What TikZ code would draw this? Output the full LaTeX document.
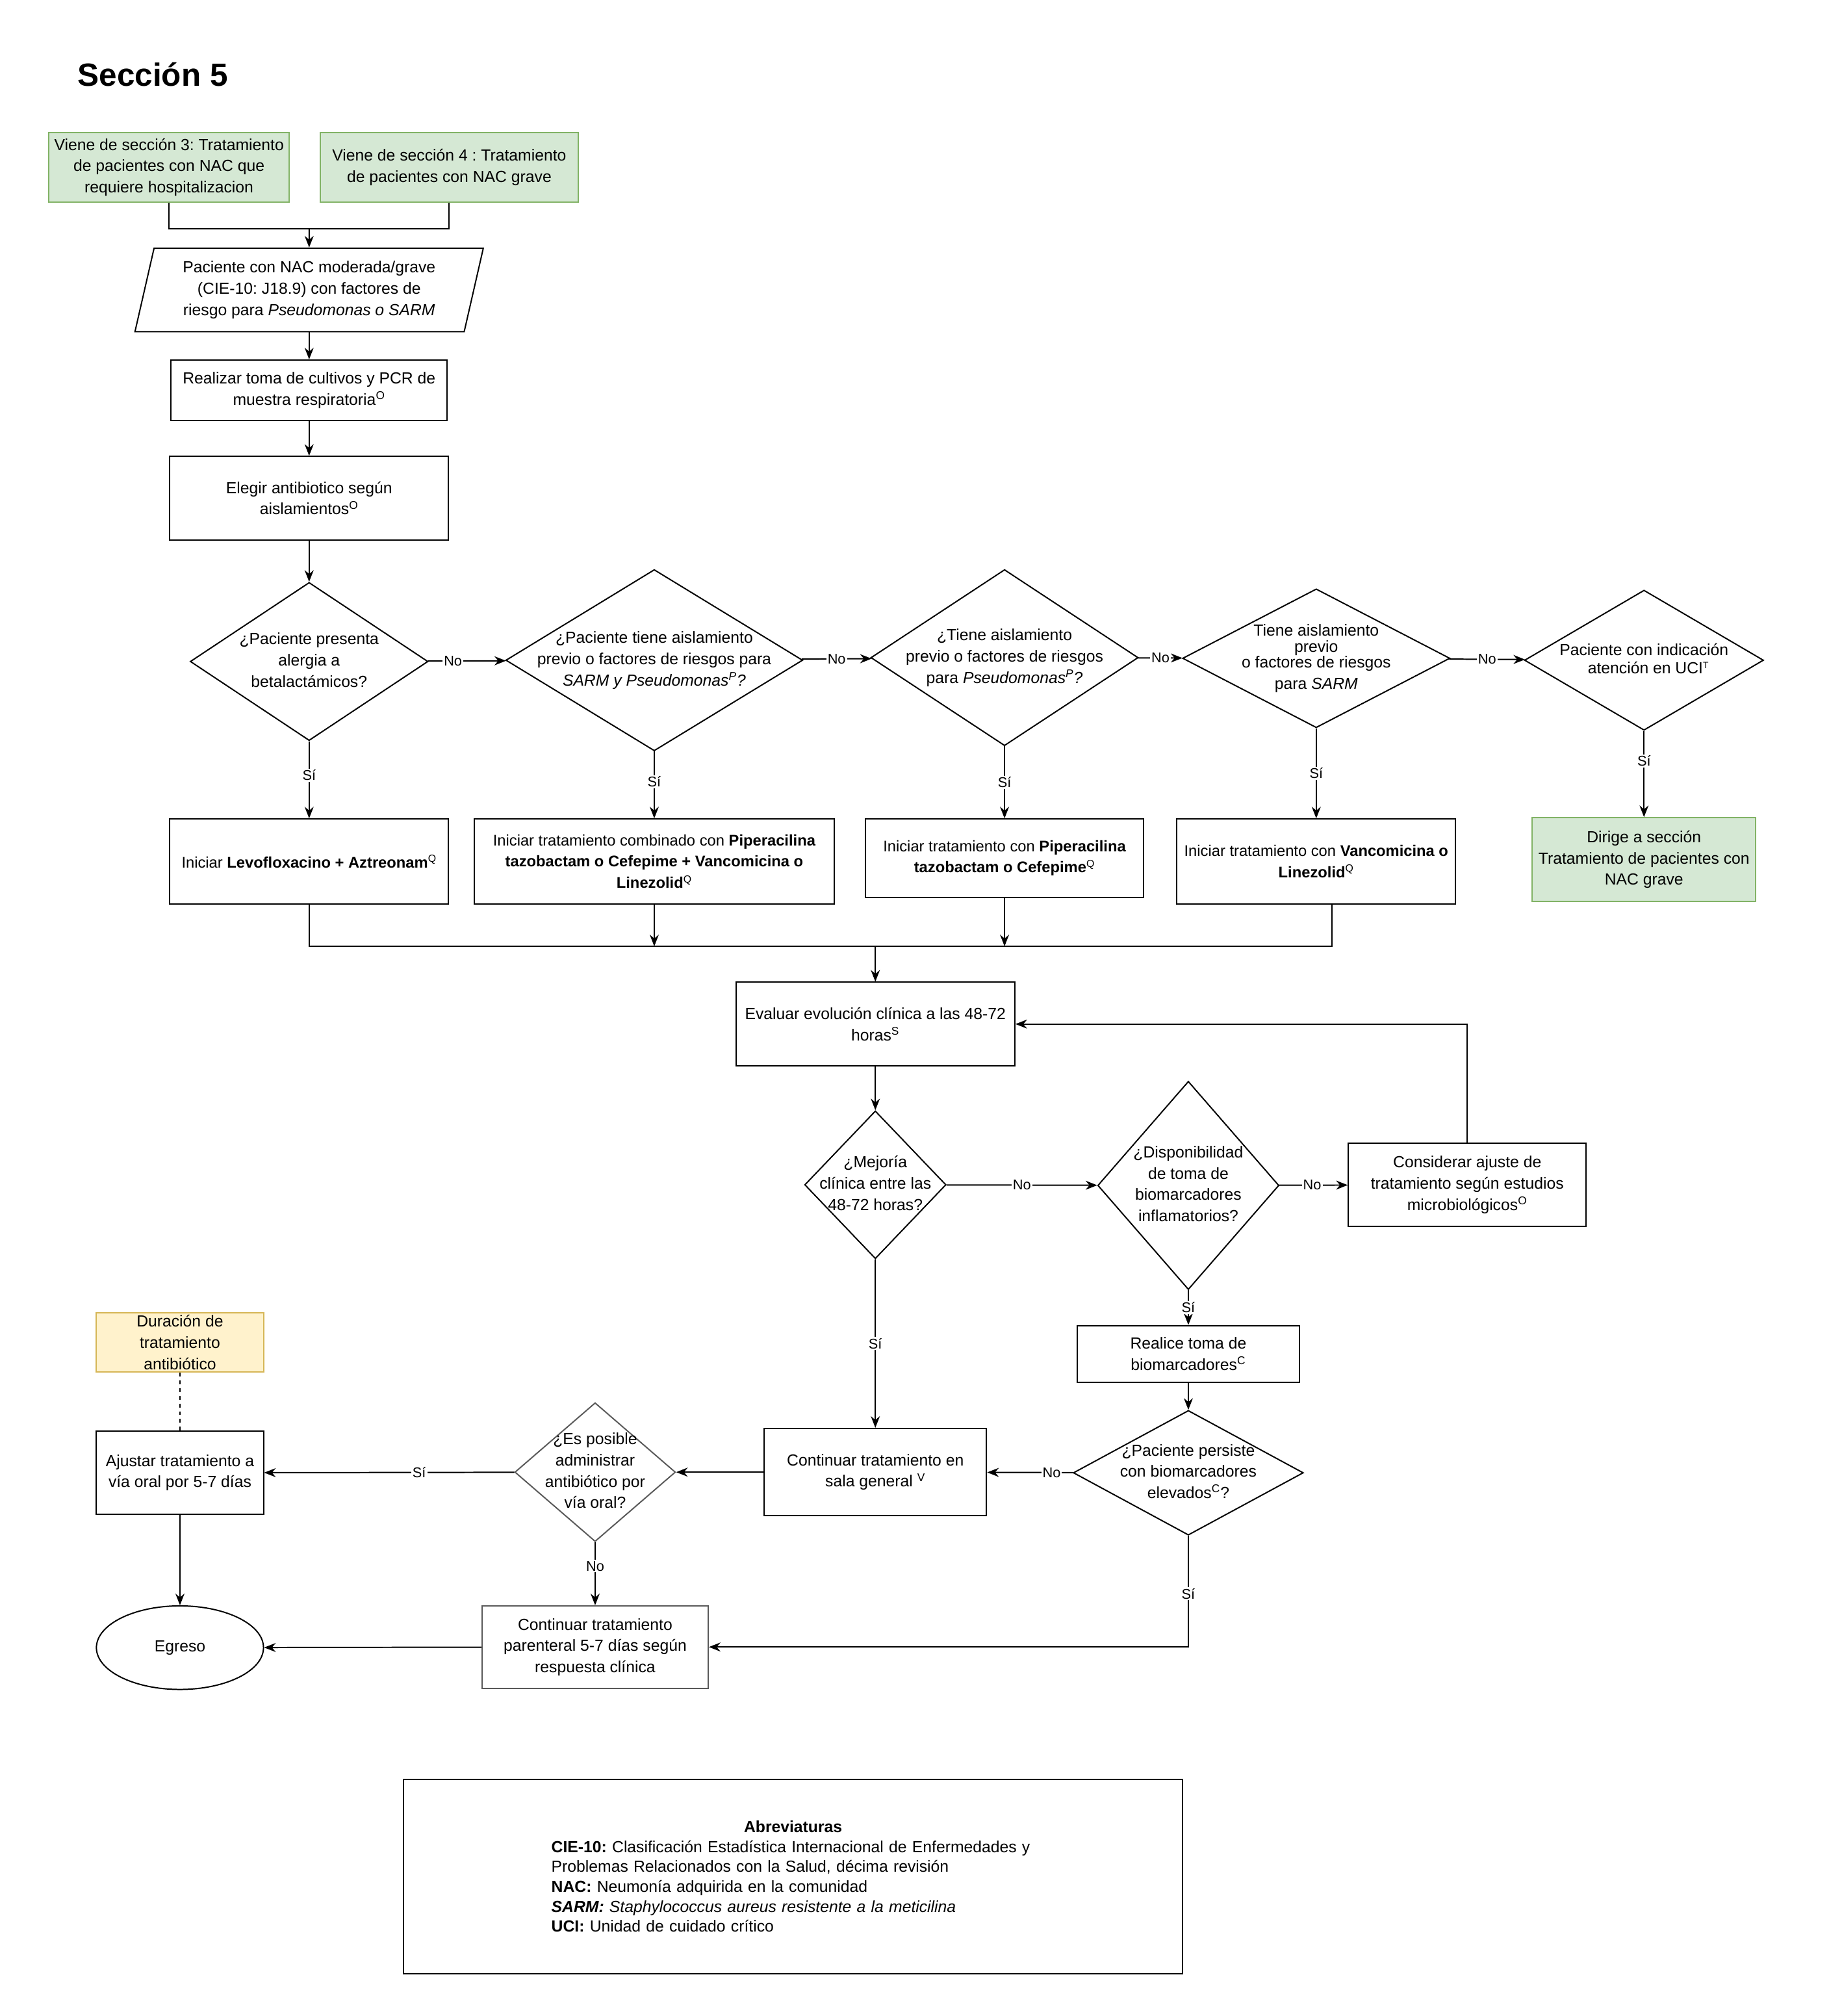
\documentclass[tikz,border=0pt]{standalone}
\usepackage{fontspec}
\setmainfont{Liberation Sans}
\usetikzlibrary{shapes.geometric,arrows.meta}
\frenchspacing
\definecolor{verdef}{HTML}{D5E8D4}
\definecolor{verdel}{HTML}{82B366}
\definecolor{amaf}{HTML}{FFF2CC}
\definecolor{amal}{HTML}{D6B656}
\newcommand{\rombo}[1]{\makebox[0pt]{\begin{tabular}{@{}c@{}}#1\end{tabular}}}
\tikzset{
  caja/.style={rectangle, draw, line width=1pt, inner sep=2pt, align=center,
    font=\fontsize{12.5}{16.5}\selectfont},
  cajaf/.style={caja, font=\fontsize{12}{16.5}\selectfont},
  verde/.style={caja, fill=verdef, draw=verdel},
  amarilla/.style={caja, fill=amaf, draw=amal},
  decision/.style={diamond, draw, line width=1pt, inner sep=0pt,
    font=\fontsize{12.5}{16.5}\selectfont},
  entrada/.style={trapezium, trapezium left angle=73, trapezium right angle=107,
    trapezium stretches body, draw, line width=1pt, inner sep=2pt, align=center,
    font=\fontsize{12.5}{16.5}\selectfont},
  fin/.style={ellipse, draw, line width=1pt, inner sep=0pt,
    font=\fontsize{12.5}{16.5}\selectfont},
  etiq/.style={fill=white, inner sep=1pt, font=\fontsize{11}{13}\selectfont},
  flecha/.style={-{Stealth[length=9pt,width=7pt]}, line width=1pt},
  linea/.style={line width=1pt}
}
\begin{document}
\begin{tikzpicture}[x=1pt,y=-1pt]
    \useasboundingbox (0,0) rectangle (1433,1568);
    \node [anchor=west, font=\fontsize{25}{30}\selectfont\bfseries] (t1) at (57,58) {Sección 5};
    % entradas
    \node [verde, minimum width=187pt, minimum height=54pt] (g1) at (131.5,130) {Viene de sección 3: Tratamiento\\de pacientes con NAC que\\requiere hospitalizacion};
    \node [verde, minimum width=201pt, minimum height=54pt] (g2) at (349.5,130) {Viene de sección 4 : Tratamiento\\de pacientes con NAC grave};
    \coordinate (m1) at (240.5,178);
    \node [entrada, minimum width=271pt, minimum height=65pt] (p1) at (240.5,225.5) {Paciente con NAC moderada/grave\\(CIE-10: J18.9) con factores de\\riesgo para \textit{Pseudomonas o SARM}};
    \node [caja, minimum width=215pt, minimum height=47pt] (b1) at (240.5,303.5) {Realizar toma de cultivos y PCR de\\muestra respiratoria\textsuperscript{O}};
    \node [caja, minimum width=217pt, minimum height=65pt] (b2) at (240.5,387.5) {Elegir antibiotico según\\aislamientos\textsuperscript{O}};
    % preguntas
    \node [decision, minimum width=185pt, minimum height=123pt] (d1) at (240.5,514.5) {\rombo{¿Paciente presenta\\alergia a\\betalactámicos?}};
    \node [decision, minimum width=231pt, minimum height=141pt] (d2) at (509,513.5) {\rombo{¿Paciente tiene aislamiento\\previo o factores de riesgos para\\\textit{SARM y Pseudomonas\textsuperscript{P}?}}};
    \node [decision, minimum width=208pt, minimum height=137pt] (d3) at (781.5,511.5) {\rombo{¿Tiene aislamiento\\previo o factores de riesgos\\para \textit{Pseudomonas\textsuperscript{P}?}}};
    \node [decision, minimum width=208pt, minimum height=108pt] (d4) at (1024,512) {\rombo{Tiene aislamiento\\[-4pt]previo\\[-4pt]o factores de riesgos\\para \textit{SARM}}};
    \node [decision, minimum width=186pt, minimum height=109pt] (d5) at (1279,513.5) {\rombo{Paciente con indicación\\[-2pt]\ \ atención en UCI\textsuperscript{\scriptsize T}}};
    % tratamientos
    \node [cajaf, minimum width=217pt, minimum height=66pt] (b3) at (240.5,670) {Iniciar \textbf{Levofloxacino + Aztreonam}\textsuperscript{Q}};
    \node [cajaf, minimum width=280pt, minimum height=66pt] (b4) at (509,670) {Iniciar tratamiento combinado con \textbf{Piperacilina}\\\textbf{tazobactam o Cefepime + Vancomicina o}\\\textbf{Linezolid}\textsuperscript{Q}};
    \node [cajaf, minimum width=216pt, minimum height=61pt] (b5) at (781.5,667.5) {Iniciar tratamiento con \textbf{Piperacilina}\\\textbf{tazobactam o Cefepime}\textsuperscript{Q}};
    \node [cajaf, minimum width=217pt, minimum height=66pt] (b6) at (1024,670) {Iniciar tratamiento con \textbf{Vancomicina o}\\\textbf{Linezolid}\textsuperscript{Q}};
    \node [verde, minimum width=174pt, minimum height=65pt] (g3) at (1279,668.5) {Dirige a sección\\Tratamiento de pacientes con\\NAC grave};
    \coordinate (m2) at (681,736);
    % evolucion
    \node [caja, minimum width=217pt, minimum height=65pt] (b7) at (681,796.5) {Evaluar evolución clínica a las 48-72\\horas\textsuperscript{S}};
    \node [decision, minimum width=110pt, minimum height=115pt] (d6) at (681,921.5) {\rombo{¿Mejoría\\clínica entre las\\48-72 horas?}};
    \node [decision, minimum width=141pt, minimum height=162pt] (d7) at (924.5,922) {\rombo{¿Disponibilidad\\de toma de\\biomarcadores\\inflamatorios?}};
    \node [caja, minimum width=185pt, minimum height=65pt] (b8) at (1141.5,921.5) {Considerar ajuste de\\tratamiento según estudios\\microbiológicos\textsuperscript{O}};
    \node [caja, minimum width=173pt, minimum height=44pt] (b9) at (924.5,1053) {Realice toma de\\biomarcadores\textsuperscript{C}};
    \node [decision, minimum width=179pt, minimum height=97pt] (d8) at (924.5,1145.5) {\rombo{¿Paciente persiste\\con biomarcadores\\elevados\textsuperscript{C}?}};
    \node [caja, minimum width=173pt, minimum height=68pt] (b10) at (681,1145) {Continuar tratamiento en\\sala general \textsuperscript{V}};
    \node [decision, draw=black!65, minimum width=125pt, minimum height=108pt] (d9) at (463,1145) {\rombo{¿Es posible\\administrar\\antibiótico por\\vía oral?}};
    \node [caja, minimum width=130pt, minimum height=65pt] (b11) at (140,1145.5) {Ajustar tratamiento a\\vía oral por 5-7 días};
    \node [amarilla, minimum width=130pt, minimum height=46pt] (a1) at (140,1044) {Duración de\\tratamiento\\antibiótico};
    \node [caja, draw=black!65, minimum width=176pt, minimum height=64pt] (b12) at (463,1281) {Continuar tratamiento\\parenteral 5-7 días según\\respuesta clínica};
    \node [fin, minimum width=130pt, minimum height=65pt] (e1) at (140,1281.5) {Egreso};
    % abreviaturas
    \node [rectangle, draw, line width=1pt, minimum width=606pt, minimum height=151pt, text width=376pt, align=left,
      font=\fontsize{12.5}{15.5}\selectfont] (ab) at (617,1459.5) {\makebox[\linewidth]{\textbf{Abreviaturas}}\\
      \textbf{CIE-10:} Clasificación Estadística Internacional de Enfermedades y\\
      Problemas Relacionados con la Salud, décima revisión\\
      \textbf{NAC:} Neumonía adquirida en la comunidad\\
      \textbf{\textit{SARM:}} \textit{Staphylococcus aureus resistente a la meticilina}\\
      \textbf{UCI:} Unidad de cuidado crítico};
    % conectores
    \draw [linea] (g1) |- (m1);
    \draw [linea] (g2) |- (m1);
    \draw [flecha] (m1) -- (p1);
    \draw [flecha] (p1) -- (b1);
    \draw [flecha] (b1) -- (b2);
    \draw [flecha] (b2) -- (d1);
    \draw [flecha] (d1) -- node [etiq, pos=0.32] {No} (d2);
    \draw [flecha] (d2) -- node [etiq] {No} (d3);
    \draw [flecha] (d3) -- node [etiq] {No} (d4);
    \draw [flecha] (d4) -- node [etiq] {No} (d5);
    \draw [flecha] (d1) -- node [etiq, pos=0.44] {Sí} (b3);
    \draw [flecha] (d2) -- node [etiq, pos=0.45] {Sí} (b4);
    \draw [flecha] (d3) -- node [etiq] {Sí} (b5);
    \draw [flecha] (d4) -- node [etiq] {Sí} (b6);
    \draw [flecha] (d5) -- node [etiq, pos=0.35] {Sí} (g3);
    \draw [linea] (b3) |- (m2);
    \draw [linea] ([xshift=12pt]b6.south) |- (m2);
    \draw [flecha] (b4) -- (b4 |- m2);
    \draw [flecha] (b5) -- (b5 |- m2);
    \draw [flecha] (m2) -- (b7);
    \draw [flecha] (b7) -- (d6);
    \draw [flecha] (d6) -- node [etiq] {No} (d7);
    \draw [flecha] (d7) -- node [etiq, pos=0.48] {No} (b8);
    \draw [flecha] (b8) |- (b7);
    \draw [flecha] (d7) -- node [etiq] {Sí} (b9);
    \draw [flecha] (b9) -- (d8);
    \draw [flecha] (d8) -- node [etiq, pos=0.25] {No} (b10);
    \draw [flecha] (d6) -- node [etiq] {Sí} (b10);
    \draw [flecha] (b10) -- (d9);
    \draw [flecha] (d9) -- node [etiq, pos=0.38] {Sí} (b11);
    \draw [linea, dashed] (a1) -- (b11);
    \draw [flecha] (b11) -- (e1);
    \draw [flecha] (d9) -- node [etiq, pos=0.38] {No} (b12);
    \draw [flecha] (b12) -- (e1);
    \draw [flecha] (d8) |- node [etiq, pos=0.26] {Sí} (b12);
\end{tikzpicture}
\end{document}
